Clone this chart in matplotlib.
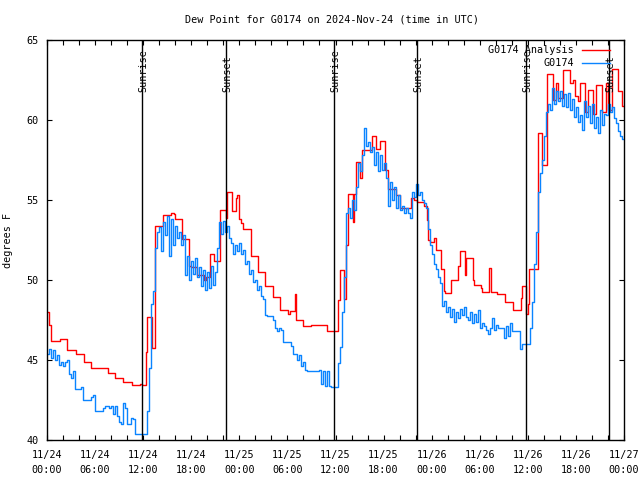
import matplotlib
matplotlib.use("Agg")
import matplotlib.pyplot as plt
import numpy as np

# hours since 2024-11-24 00:00 UTC
# analysis (red): breakpoints where the stepped value changes
red_t = [0.0, 0.25, 0.5, 1.6, 2.5, 3.6, 4.6, 5.5, 7.6, 8.5, 9.5, 10.6, 11.6, 11.9,
         12.35, 12.45, 13.05, 13.5, 14.5, 15.5, 15.8, 16.0, 16.8, 17.7, 18.0, 18.7,
         19.6, 19.9, 20.4, 20.9, 21.6, 22.3, 22.5, 23.1, 23.6, 23.75, 23.9, 24.2,
         24.4, 25.4, 25.5, 26.3, 27.2, 28.2, 29.1, 30.1, 30.3, 31.0, 31.1, 32.0,
         32.9, 35.0, 36.35, 36.5, 37.0, 37.3, 37.5, 38.2, 38.3, 38.5, 39.1, 39.35,
         40.5, 41.0, 41.5, 42.2, 42.6, 43.5, 44.1, 45.4, 45.8, 46.2, 47.1, 47.4,
         47.6, 47.8, 48.3, 48.5, 49.2, 49.5, 49.7, 50.4, 51.3, 51.5, 52.2, 52.3,
         53.1, 53.3, 54.2, 54.3, 55.2, 55.35, 56.2, 57.2, 58.2, 59.1, 59.3, 59.8,
         60.0, 60.2, 61.3, 61.8, 62.4, 63.2, 63.5, 63.8, 64.4, 65.2, 65.6, 65.9,
         66.2, 66.5, 67.1, 67.5, 68.1, 68.5, 69.3, 69.7, 70.0, 70.5, 71.3, 71.7,
         72.0]
red_v = [48.0, 47.2, 46.2, 46.3, 45.6, 45.4, 44.9, 44.5, 44.2, 43.9, 43.6, 43.45, 43.5, 43.45,
         45.5, 47.7, 45.75, 53.4, 54.05, 54.2, 54.1, 53.8, 52.55, 50.9, 50.8, 50.3,
         50.0, 50.2, 51.6, 51.2, 54.4, 53.9, 55.5, 54.3, 55.1, 55.3, 53.8, 53.55,
         53.2, 52.3, 51.5, 50.5, 49.6, 48.95, 48.1, 47.9, 48.05, 49.1, 47.5, 47.1,
         47.2, 46.8, 48.75, 50.6, 48.8, 52.2, 55.4, 53.6, 55.4, 57.4, 56.4, 58.1,
         59.0, 58.2, 58.7, 56.9, 55.7, 55.3, 54.5, 55.15, 55.0, 54.9, 54.6, 53.75,
         52.5, 52.4, 52.6, 51.9, 50.7, 49.3, 49.2, 50.0, 50.9, 51.8, 50.3, 51.4,
         50.0, 49.7, 49.5, 49.25, 50.75, 49.25, 49.1, 48.6, 48.1, 48.9, 49.65, 47.9,
         48.5, 50.7, 59.2, 57.2, 62.9, 61.25, 62.3, 61.35, 63.1, 62.3, 62.5, 61.5,
         61.2, 62.3, 60.5, 61.9, 60.4, 62.2, 60.5, 62.3, 60.6, 63.2, 61.8, 60.9,
         60.9]

# station G0174 (blue): 15-minute values, one row per 3 hours
blue_v = [
    45.4, 45.7, 45.1, 45.6,  45.0, 45.3, 44.7, 44.9,  44.6, 44.9, 45.0, 44.1,
    43.9, 44.3, 43.2, 43.2,  43.2, 43.3, 42.5, 42.5,  42.5, 42.5, 42.7, 42.8,
    41.8, 41.8, 41.8, 41.8,  42.0, 42.1, 42.1, 42.0,  42.1, 41.6, 42.1, 41.5,
    41.1, 41.0, 42.3, 42.0,  41.0, 41.0, 41.4, 41.3,  40.4, 40.4, 40.4, 40.4,
    40.4, 40.4, 41.8, 44.5,  48.5, 49.3, 52.0, 53.0,  53.3, 51.8, 53.6, 52.8,
    54.0, 51.5, 53.8, 52.2,  53.4, 52.6, 53.0, 52.2,  52.8, 50.3, 51.5, 50.0,
    51.2, 50.4, 51.4, 50.2,  50.8, 49.6, 50.6, 49.4,  50.5, 49.5, 50.9, 49.7,
    50.5, 52.0, 53.6, 52.9,  53.7, 53.0, 53.4, 52.6,  52.3, 51.6, 52.2, 51.8,
    52.3, 51.6, 51.9, 51.0,  51.2, 50.4, 50.6, 49.9,  50.0, 49.4, 49.6, 49.0,
    48.8, 47.8, 47.75, 47.75, 47.75, 47.5, 47.0, 46.8, 47.0, 46.9, 46.1, 46.1,
    46.1, 46.1, 45.9, 45.4,  45.4, 45.0, 45.3, 44.6,  44.9, 44.4, 44.3, 44.3,
    44.3, 44.3, 44.3, 44.3,  44.4, 43.5, 44.3, 43.4,  44.3, 43.4, 43.3, 43.3,
    43.3, 44.8, 45.8, 48.0,  50.2, 54.2, 54.5, 53.9,  55.0, 54.4, 55.8, 57.3,
    56.8, 57.8, 59.5, 58.4,  58.6, 58.0, 58.3, 57.2,  58.0, 56.8, 57.8, 56.9,
    57.3, 56.4, 54.6, 56.1,  55.0, 55.8, 54.5, 55.3,  54.4, 54.6, 54.2, 54.5,
    54.2, 53.9, 55.5, 55.2,  56.0, 55.3, 55.5, 55.0,  54.8, 54.5, 53.2, 52.2,
    51.6, 51.0, 50.7, 50.2,  49.8, 48.4, 48.7, 48.0,  48.3, 47.7, 48.2, 47.4,
    48.0, 47.6, 48.2, 47.8,  48.3, 47.7, 47.5, 48.0,  47.3, 47.9, 47.4, 48.1,
    47.0, 47.3, 47.1, 46.9,  46.6, 47.0, 47.6, 46.9,  47.2, 47.0, 47.0, 47.0,
    46.4, 47.1, 46.5, 47.3,  46.8, 46.8, 46.8, 46.8,  45.7, 46.0, 46.0, 46.0,
    46.0, 47.0, 48.6, 51.0,  53.0, 55.5, 56.7, 57.5,  59.0, 60.5, 61.0, 60.6,
    62.0, 61.0, 61.8, 61.2,  61.8, 60.9, 61.6, 60.8,  61.7, 60.6, 61.3, 60.2,
    60.8, 59.9, 60.3, 59.4,  61.2, 60.2, 60.9, 59.8,  61.0, 59.5, 60.2, 59.2,
    60.6, 59.7, 60.4, 60.3,  61.0, 60.5, 60.8, 60.1,  59.8, 59.3, 59.0, 58.8,
]

sun_t = [11.85, 22.34, 35.81, 46.17, 59.77, 70.13]
sun_lbl = ["Sunrise", "Sunset", "Sunrise", "Sunset", "Sunrise", "Sunset"]

xtick_t = [0, 6, 12, 18, 24, 30, 36, 42, 48, 54, 60, 66, 72]
xtick_lbl = ["11/24\n00:00", "11/24\n06:00", "11/24\n12:00", "11/24\n18:00",
             "11/25\n00:00", "11/25\n06:00", "11/25\n12:00", "11/25\n18:00",
             "11/26\n00:00", "11/26\n06:00", "11/26\n12:00", "11/26\n18:00",
             "11/27\n00:00"]

RED = "#ff0000"
BLUE = "#0a84ff"
FONT = "DejaVu Sans Mono"
FS = 7.3

plt.rcParams["font.family"] = FONT
plt.rcParams["font.size"] = FS

fig = plt.figure(figsize=(6.4, 4.8), dpi=100)
ax = fig.add_axes([47 / 640, 40 / 480, (624 - 47) / 640, 400 / 480])

bt = np.arange(len(blue_v) + 1) * 0.25
bv = list(blue_v) + [blue_v[-1]]

ax.step(red_t, red_v, where="post", color=RED, lw=1.0)
ax.step(bt, bv, where="post", color=BLUE, lw=1.0)

for t, lbl in zip(sun_t, sun_lbl):
    ax.axvline(t, color="black", lw=1.0)
    ax.text(t + 0.15, 0.87, lbl, transform=ax.get_xaxis_transform(),
            rotation=90, ha="center", va="bottom", fontsize=FS)

ax.set_xlim(0, 72)
ax.set_ylim(40, 65)
ax.set_yticks([40, 45, 50, 55, 60, 65])
ax.set_xticks(xtick_t)
ax.set_xticklabels(xtick_lbl, linespacing=1.7)
ax.set_xticks(np.arange(0, 73, 2), minor=True)
ax.tick_params(which="both", direction="in", top=True, right=True,
               length=3.5, width=0.8, labelsize=FS)
ax.tick_params(axis="x", pad=7)
ax.tick_params(axis="y", pad=6)
for s in ax.spines.values():
    s.set_linewidth(1.0)

ax.set_ylabel("degrees F", fontsize=FS, labelpad=10)
fig.text(332 / 640, 1 - 20 / 480, "Dew Point for G0174 on 2024-Nov-24 (time in UTC)",
         ha="center", va="center", fontsize=FS)

# legend, gnuplot style: right-aligned text with line sample after it
for i, (name, col) in enumerate([("G0174 Analysis", RED), ("G0174", BLUE)]):
    yy = 1 - (10 + 13 * i) / 400
    ax.text(1 - 50 / 577, yy, name, transform=ax.transAxes, ha="right",
            va="center", fontsize=FS)
    ax.plot([1 - 42 / 577, 1 - 14 / 577], [yy, yy], transform=ax.transAxes,
            color=col, lw=1.0, clip_on=False)

fig.savefig("out.png", dpi=100)
